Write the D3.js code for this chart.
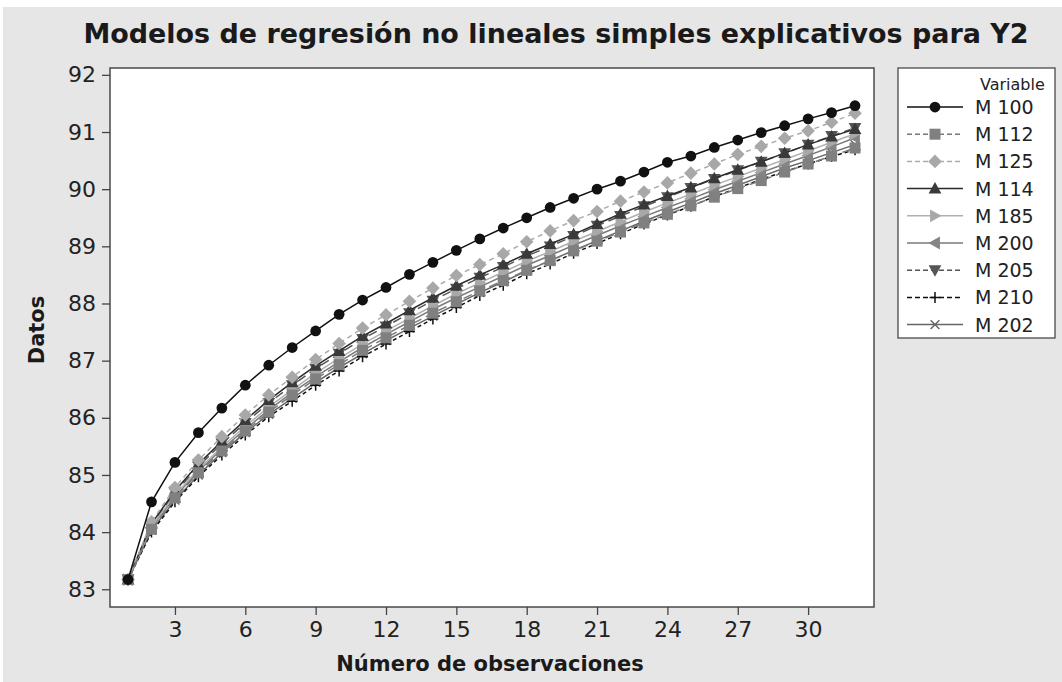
<!DOCTYPE html>
<html><head><meta charset="utf-8">
<script src="https://cdn.jsdelivr.net/npm/d3@7"></script>
<style>html,body{margin:0;padding:0;background:#fff;} svg{display:block;}</style>
</head><body>
<svg id="chart" width="1062" height="682"></svg>
<script>
const obs = d3.range(1, 33);
const xTicks = [3,6,9,12,15,18,21,24,27,30];
const yTicks = [83,84,85,86,87,88,89,90,91,92];
const seriesNames = ["M 100","M 112","M 125","M 114","M 185","M 200","M 205","M 210","M 202"];
const M100 = [83.17,84.53,85.22,85.74,86.17,86.57,86.92,87.23,87.52,87.81,88.06,88.28,88.51,88.72,88.93,89.13,89.32,89.50,89.68,89.84,90.00,90.14,90.30,90.47,90.58,90.73,90.86,90.99,91.11,91.23,91.34,91.46];
const M112 = [83.17,84.05,84.60,85.04,85.42,85.77,86.10,86.40,86.68,86.93,87.18,87.40,87.62,87.83,88.03,88.22,88.40,88.58,88.75,88.92,89.09,89.25,89.41,89.56,89.71,89.86,90.01,90.15,90.30,90.44,90.58,90.72];
const M125 = [83.17,84.18,84.78,85.26,85.67,86.05,86.40,86.71,87.02,87.30,87.57,87.80,88.04,88.27,88.49,88.68,88.87,89.08,89.27,89.45,89.61,89.79,89.95,90.11,90.28,90.44,90.61,90.75,90.89,91.02,91.17,91.33];
const M114 = [83.17,84.15,84.72,85.19,85.59,85.96,86.31,86.62,86.91,87.17,87.43,87.65,87.88,88.10,88.31,88.50,88.68,88.87,89.04,89.21,89.39,89.57,89.73,89.88,90.03,90.19,90.34,90.48,90.63,90.78,90.92,91.05];
const M185 = [83.17,84.10,84.65,85.10,85.49,85.85,86.19,86.49,86.78,87.04,87.29,87.52,87.74,87.96,88.17,88.36,88.55,88.74,88.91,89.09,89.26,89.43,89.60,89.76,89.91,90.07,90.22,90.37,90.52,90.67,90.82,90.97];
const M200 = [83.17,84.08,84.62,85.07,85.45,85.80,86.14,86.44,86.72,86.98,87.23,87.46,87.68,87.90,88.10,88.29,88.48,88.67,88.84,89.02,89.19,89.36,89.52,89.68,89.83,89.99,90.14,90.29,90.44,90.59,90.74,90.90];
const M205 = [83.17,84.13,84.69,85.15,85.55,85.91,86.26,86.57,86.86,87.12,87.38,87.60,87.83,88.05,88.26,88.45,88.64,88.83,89.00,89.18,89.36,89.53,89.70,89.86,90.02,90.18,90.33,90.48,90.63,90.78,90.93,91.07];
const M210 = [83.17,84.00,84.53,84.97,85.35,85.70,86.02,86.29,86.57,86.82,87.07,87.29,87.51,87.73,87.93,88.14,88.32,88.52,88.69,88.88,89.05,89.22,89.39,89.55,89.70,89.87,90.02,90.17,90.31,90.44,90.57,90.69];
const M202 = [83.17,84.03,84.56,85.00,85.39,85.74,86.06,86.34,86.62,86.88,87.12,87.35,87.57,87.78,87.99,88.19,88.38,88.57,88.75,88.93,89.10,89.27,89.44,89.60,89.76,89.92,90.07,90.22,90.37,90.50,90.64,90.78];
const seriesValues = [M100,M112,M125,M114,M185,M200,M205,M210,M202];

const styles = [
  {stroke:"#111", dash:null, sym:"circle", fill:"#111"},
  {stroke:"#7a7a7a", dash:"9,5", sym:"square", fill:"#808080"},
  {stroke:"#ababab", dash:"5,4", sym:"diamond", fill:"#a8a8a8"},
  {stroke:"#2a2a2a", dash:null, sym:"triangle", fill:"#3a3a3a"},
  {stroke:"#b0b0b0", dash:null, sym:"right", fill:"#a8a8a8"},
  {stroke:"#7a7a7a", dash:null, sym:"left", fill:"#858585"},
  {stroke:"#555", dash:"9,5", sym:"down", fill:"#555"},
  {stroke:"#111", dash:"4,3", sym:"plus", fill:"none"},
  {stroke:"#666", dash:null, sym:"cross", fill:"none"}
];

const svg = d3.select("#chart");
svg.append("rect").attr("x",3).attr("y",7).attr("width",1059).attr("height",675).attr("fill","#e6e6e6");

const L = 110, R = 874, T = 68, B = 607;
const x = d3.scaleLinear().domain([0.23, 32.81]).range([L, R]);
const y = d3.scaleLinear().domain([82.69, 92.12]).range([B, T]);

svg.append("rect").attr("x",L).attr("y",T).attr("width",R-L).attr("height",B-T)
  .attr("fill","#fff").attr("stroke","#4a4a4a").attr("stroke-width",1.5);

const font = "'DejaVu Sans', Verdana, sans-serif";

const gx = svg.append("g").attr("transform",`translate(0,${B})`)
  .call(d3.axisBottom(x).tickValues(xTicks).tickSize(8).tickPadding(6));
const gy = svg.append("g").attr("transform",`translate(${L},0)`)
  .call(d3.axisLeft(y).tickValues(yTicks).tickSize(8).tickPadding(6));
[gx,gy].forEach(g=>{
  g.select(".domain").remove();
  g.selectAll(".tick line").attr("stroke","#444").attr("stroke-width",1.3);
  g.selectAll(".tick text").attr("font-family",font).attr("font-size",22).attr("fill","#222");
});

function symPath(sym, s){
  switch(sym){
    case "circle": return d3.symbol(d3.symbolCircle, s*s*0.75)();
    case "square": return `M${-s/2},${-s/2}h${s}v${s}h${-s}Z`;
    case "diamond": return `M0,${-s*0.62}L${s*0.62},0L0,${s*0.62}L${-s*0.62},0Z`;
    case "triangle": return `M0,${-s*0.6}L${s*0.58},${s*0.45}L${-s*0.58},${s*0.45}Z`;
    case "down": return `M0,${s*0.6}L${s*0.58},${-s*0.45}L${-s*0.58},${-s*0.45}Z`;
    case "right": return `M${s*0.6},0L${-s*0.45},${s*0.58}L${-s*0.45},${-s*0.58}Z`;
    case "left": return `M${-s*0.6},0L${s*0.45},${s*0.58}L${s*0.45},${-s*0.58}Z`;
    case "plus": return `M${-s/2},0H${s/2}M0,${-s/2}V${s/2}`;
    case "cross": return `M${-s*0.4},${-s*0.4}L${s*0.4},${s*0.4}M${-s*0.4},${s*0.4}L${s*0.4},${-s*0.4}`;
  }
}

const line = d3.line().x((d,i)=>x(obs[i])).y(d=>y(d));
const plot = svg.append("g");
for (let k = seriesValues.length-1; k >= 0; k--) {
  const st = styles[k], vals = seriesValues[k];
  plot.append("path").datum(vals).attr("d", line).attr("fill","none")
    .attr("stroke", st.stroke).attr("stroke-width",1.5)
    .attr("stroke-dasharray", st.dash);
  plot.selectAll(null).data(vals).enter().append("path")
    .attr("transform",(d,i)=>`translate(${x(obs[i])},${y(d)})`)
    .attr("d", symPath(st.sym, 11))
    .attr("fill", st.fill)
    .attr("stroke", (st.sym==="plus"||st.sym==="cross") ? st.stroke : "none")
    .attr("stroke-width", 1.5);
}

svg.append("text").attr("x",556).attr("y",43).attr("text-anchor","middle")
  .attr("font-family",font).attr("font-weight","bold").attr("font-size",27).attr("fill","#1a1a1a")
  .attr("textLength",945).attr("lengthAdjust","spacingAndGlyphs")
  .text("Modelos de regresión no lineales simples explicativos para Y2");
svg.append("text").attr("x",490).attr("y",671).attr("text-anchor","middle")
  .attr("font-family",font).attr("font-weight","bold").attr("font-size",21).attr("fill","#1a1a1a")
  .text("Número de observaciones");
svg.append("text").attr("transform","translate(44,330) rotate(-90)").attr("text-anchor","middle")
  .attr("font-family",font).attr("font-weight","bold").attr("font-size",21).attr("fill","#1a1a1a")
  .text("Datos");

const lg = svg.append("g");
lg.append("rect").attr("x",898).attr("y",68).attr("width",157).attr("height",270)
  .attr("fill","#fff").attr("stroke","#4a4a4a").attr("stroke-width",1.3);
lg.append("text").attr("x",980).attr("y",90).attr("font-family",font).attr("font-size",16).attr("fill","#222").text("Variable");
seriesNames.forEach((name,k)=>{
  const st = styles[k], cy = 107 + k*27.2;
  lg.append("line").attr("x1",907).attr("x2",963).attr("y1",cy).attr("y2",cy)
    .attr("stroke",st.stroke).attr("stroke-width",1.5).attr("stroke-dasharray", st.dash ? "5,3" : null);
  lg.append("path").attr("transform",`translate(935,${cy})`).attr("d",symPath(st.sym,11))
    .attr("fill",st.fill).attr("stroke",(st.sym==="plus"||st.sym==="cross") ? st.stroke : "none").attr("stroke-width",1.5);
  lg.append("text").attr("x",975).attr("y",cy+7).attr("font-family",font).attr("font-size",19).attr("fill","#222").text(name);
});
</script>
</body></html>
